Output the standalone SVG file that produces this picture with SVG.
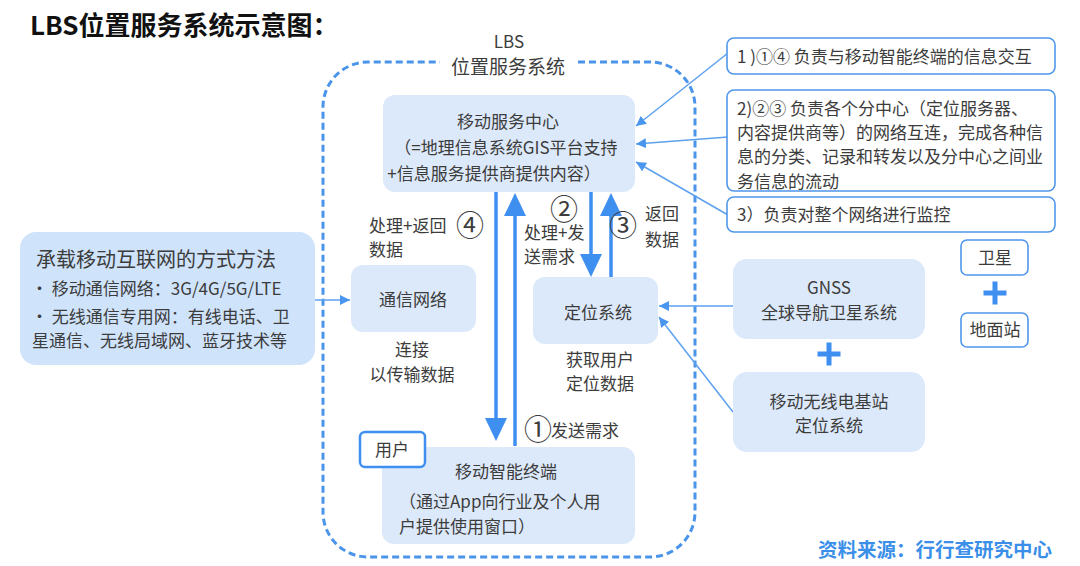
<svg xmlns="http://www.w3.org/2000/svg" width="1080" height="566" viewBox="0 0 1080 566">
<style>
text{font-family:"Noto Sans CJK SC","Noto Sans",sans-serif;fill:#3c3c3c;font-size:17px}
.c{text-anchor:middle}
.box{fill:#dce9fa}
.wbox{fill:#fff;stroke:#4f97ea;stroke-width:1.6}
.thick{stroke:#3f8ff0;stroke-width:3.5;fill:none}
.thin{stroke:#5da1ee;stroke-width:1.5;fill:none}
.num{font-size:28px}
.plus{fill:#3f8ff0}
</style>
<defs>
<marker id="ah" viewBox="0 0 10 10" refX="10" refY="5" markerWidth="10" markerHeight="10" markerUnits="userSpaceOnUse" orient="auto">
<path d="M0,0 L10,5 L0,10 Z" fill="#4a96ee"/>
</marker>
</defs>
<rect width="1080" height="566" fill="#fff"/>
<text x="30" y="35" style="font-size:26px;font-weight:bold;fill:#111">LBS位置服务系统示意图：</text>

<g id="container">
<path d="M578,62 H650 A45,45 0 0 1 695,107 V512 A45,45 0 0 1 650,557 H368 A45,45 0 0 1 323,512 V107 A45,45 0 0 1 368,62 H440" fill="none" stroke="#4a94ea" stroke-width="3" stroke-dasharray="7 4"/>
<text class="c" x="509" y="48">LBS</text>
<text class="c" x="508" y="74" style="font-size:19px">位置服务系统</text>
</g>

<g id="connectors">
<line class="thick" x1="496" y1="192" x2="496" y2="420"/>
<path d="M485,418 L507,418 L496,441 Z" fill="#3f8ff0"/>
<line class="thick" x1="515" y1="446" x2="515" y2="214"/>
<path d="M504,216 L526,216 L515,193 Z" fill="#3f8ff0"/>
<line class="thick" x1="591" y1="192" x2="591" y2="256"/>
<path d="M580,254 L602,254 L591,277 Z" fill="#3f8ff0"/>
<line class="thick" x1="611" y1="277" x2="611" y2="214"/>
<path d="M600,216 L622,216 L611,193 Z" fill="#3f8ff0"/>
<line class="thin" x1="315" y1="300" x2="350" y2="300" marker-end="url(#ah)"/>
<line class="thin" x1="728" y1="53" x2="636" y2="126" marker-end="url(#ah)"/>
<line class="thin" x1="728" y1="137" x2="636" y2="144" marker-end="url(#ah)"/>
<line class="thin" x1="728" y1="215" x2="636" y2="162" marker-end="url(#ah)"/>
<line class="thin" x1="733" y1="306" x2="659" y2="306" marker-end="url(#ah)"/>
<line class="thin" x1="733" y1="412" x2="659" y2="317" marker-end="url(#ah)"/>
</g>

<g id="labels">
<text x="369" y="232">处理+返回</text>
<text x="369" y="256">数据</text>
<text class="c num" x="470" y="236">④</text>
<text class="c num" x="564" y="220">②</text>
<text x="524" y="239">处理+发</text>
<text x="524" y="263">送需求</text>
<text class="c num" x="623" y="236">③</text>
<text x="645" y="220">返回</text>
<text x="645" y="246">数据</text>
<text class="c" x="412" y="356">连接</text>
<text class="c" x="412" y="381">以传输数据</text>
<text class="c" x="600" y="366">获取用户</text>
<text class="c" x="600" y="390">定位数据</text>
<text class="c num" x="538" y="440">①</text>
<text x="551" y="437">发送需求</text>
</g>

<g id="mobile-service-center">
<rect class="box" x="383" y="95" width="252" height="97" rx="12"/>
<text class="c" x="508" y="128">移动服务中心</text>
<text class="c" x="506" y="154">（=地理信息系统GIS平台支持</text>
<text class="c" x="494" y="180">+信息服务提供商提供内容）</text>
</g>

<g id="bearer">
<rect x="20" y="232" width="295" height="133" rx="16" fill="#cfe3fb"/>
<text x="36" y="267" style="font-size:20px">承载移动互联网的方式方法</text>
<text x="31" y="295">· 移动通信网络：3G/4G/5G/LTE</text>
<text x="31" y="323">· 无线通信专用网：有线电话、卫</text>
<text x="32" y="347">星通信、无线局域网、蓝牙技术等</text>
</g>

<g id="comm-network">
<rect class="box" x="351" y="265" width="125" height="67" rx="12"/>
<text class="c" x="413" y="306">通信网络</text>
</g>

<g id="positioning">
<rect class="box" x="533" y="277" width="125" height="67" rx="12"/>
<text class="c" x="598" y="319">定位系统</text>
</g>

<g id="terminal">
<rect class="box" x="382" y="447" width="253" height="97" rx="12"/>
<text class="c" x="506" y="478">移动智能终端</text>
<text x="399" y="508">（通过App向行业及个人用</text>
<text x="399" y="533">户提供使用窗口）</text>
</g>

<g id="user">
<rect x="360" y="432" width="65" height="35" rx="5" fill="#fff" stroke="#3f8ff0" stroke-width="2.5"/>
<text class="c" x="392" y="456">用户</text>
</g>

<g id="note1">
<rect class="wbox" x="727" y="38" width="328" height="36" rx="7"/>
<text x="737" y="63">1 )①④ 负责与移动智能终端的信息交互</text>
</g>
<g id="note2">
<rect class="wbox" x="727" y="90" width="328" height="101" rx="7"/>
<text x="737" y="115">2)②③ 负责各个分中心（定位服务器、</text>
<text x="737" y="139">内容提供商等）的网络互连，完成各种信</text>
<text x="737" y="163">息的分类、记录和转发以及分中心之间业</text>
<text x="737" y="188">务信息的流动</text>
</g>
<g id="note3">
<rect class="wbox" x="727" y="197" width="328" height="35" rx="7"/>
<text x="737" y="221">3）负责对整个网络进行监控</text>
</g>

<g id="gnss">
<rect class="box" x="733" y="259" width="192" height="80" rx="14"/>
<text class="c" x="829" y="294">GNSS</text>
<text class="c" x="829" y="319">全球导航卫星系统</text>
</g>
<g id="plus1">
<rect class="plus" x="817.5" y="351.5" width="23" height="5"/>
<rect class="plus" x="826.5" y="342.5" width="5" height="23"/>
</g>
<g id="base-station">
<rect class="box" x="733" y="372" width="192" height="80" rx="14"/>
<text class="c" x="829" y="408">移动无线电基站</text>
<text class="c" x="829" y="432">定位系统</text>
</g>
<g id="satellite">
<rect class="wbox" x="961" y="240" width="67" height="35" rx="6"/>
<text class="c" x="995" y="264">卫星</text>
</g>
<g id="plus2">
<rect class="plus" x="983.5" y="290.5" width="23" height="5"/>
<rect class="plus" x="992.5" y="281.5" width="5" height="23"/>
</g>
<g id="ground-station">
<rect class="wbox" x="961" y="313" width="67" height="34" rx="6"/>
<text class="c" x="995" y="336">地面站</text>
</g>

<text x="818" y="557" style="font-size:19.5px;font-weight:bold;fill:#3b8fe9">资料来源：行行查研究中心</text>
</svg>
